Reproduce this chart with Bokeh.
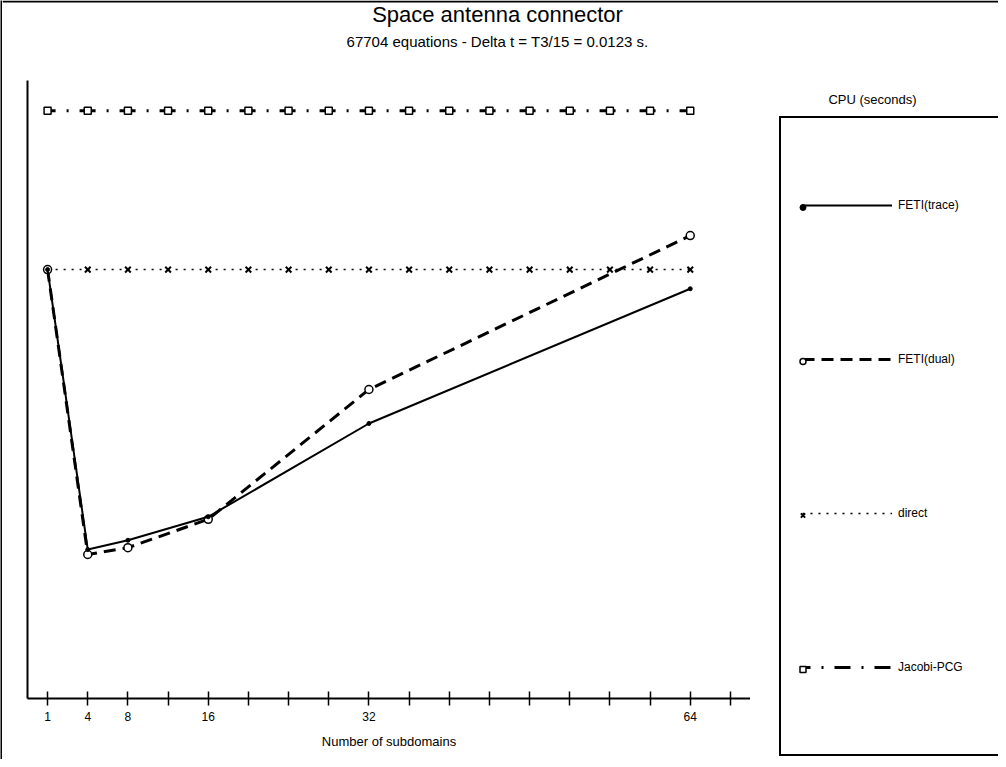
from bokeh.plotting import figure
from bokeh.layouts import row, column
from bokeh.models import (FixedTicker, Legend, LegendItem, Label, Range1d)
from bokeh.embed import file_html
from bokeh.resources import INLINE

# ---------------- data (y in relative CPU units, no scale printed) ----------------
subdomains = [1, 4, 8, 16, 32, 64]
feti_trace = [69.4, 24.1, 25.6, 29.4, 44.5, 66.3]
feti_dual = [69.4, 23.3, 24.4, 29.0, 50.0, 74.9]

ref_subdomains = [1, 4, 8, 12, 16, 20, 24, 28, 32, 36, 40, 44, 48, 52, 56, 60, 64]
direct_cpu = [69.4] * len(ref_subdomains)
jacobi_cpu = [95.1] * len(ref_subdomains)

tick_values = [1, 4, 8, 12, 16, 20, 24, 28, 32, 36, 40, 44, 48, 52, 56, 60, 64, 68]
tick_labels = {1: "1", 4: "4", 8: "8", 16: "16", 32: "32", 64: "64"}

series_names = ["FETI(trace)", "FETI(dual)", "direct", "Jacobi-PCG"]
title_text = "Space antenna connector"
subtitle_text = "67704 equations - Delta t = T3/15 = 0.0123 s."
legend_title = "CPU (seconds)"
x_title = "Number of subdomains"


# the original axis puts "1 subdomain" on the origin tick of its 4-step grid
def axis_pos(n):
    return 0 if n == 1 else n


xs = [axis_pos(n) for n in subdomains]
xs_ref = [axis_pos(n) for n in ref_subdomains]

FONT = "Liberation Sans"

STY = {
    "trace_line": dict(line_color="black", line_width=2),
    "trace_mk": dict(marker="circle", size=4, fill_color="black", line_color="black"),
    "dual_line": dict(line_color="black", line_width=3, line_dash="12 7"),
    "dual_mk": dict(marker="circle", size=8, fill_color="white", line_color="black", line_width=1.5),
    "dir_line": dict(line_color="black", line_width=1.5, line_dash="2 6"),
    "dir_mk": dict(marker="x", size=8, line_color="black", line_width=2),
    "jac_line": dict(line_color="black", line_width=3, line_dash="16 11 2 11", line_dash_offset=8),
    "jac_mk": dict(marker="square", size=7, fill_color="white", line_color="black", line_width=1.5),
}


def no_align(f):
    try:
        f.frame_align = False
    except Exception:
        pass
    return f


def blank(width, height, fill="white", xr=(0, 1), yr=(0, 1)):
    f = figure(width=width, height=height, title=None, toolbar_location=None,
               output_backend="svg", x_axis_type=None, y_axis_type=None,
               x_range=Range1d(*xr), y_range=Range1d(*yr),
               min_border=0, min_border_left=0, min_border_right=0,
               min_border_top=0, min_border_bottom=0,
               background_fill_color=fill, border_fill_color=fill)
    f.outline_line_color = None
    return no_align(f)


# ---------------- header: titles and the page's top rule ----------------
HEAD_H = 80
header = blank(996, HEAD_H, xr=(0, 996), yr=(0, HEAD_H))
header.quad(left=[0], right=[996], bottom=[HEAD_H - 2], top=[HEAD_H],
            fill_color="black", line_color=None)
header.add_layout(Label(x=495, y=HEAD_H - 14, text=title_text, text_align="center",
                        text_baseline="middle", text_font=FONT, text_font_size="22px",
                        text_color="black"))
header.add_layout(Label(x=495, y=HEAD_H - 41, text=subtitle_text, text_align="center",
                        text_baseline="middle", text_font=FONT, text_font_size="15px",
                        text_color="black"))

# ---------------- main plot ----------------
p = figure(frame_width=723, frame_height=618, title=None,
           x_range=Range1d(-2, 70), y_range=Range1d(0, 100),
           output_backend="svg", toolbar_location=None,
           min_border_left=25, min_border_right=0,
           min_border_top=0, min_border_bottom=61,
           background_fill_color="white", border_fill_color="white")
no_align(p)
p.outline_line_color = None
p.grid.visible = False

p.yaxis.ticker = FixedTicker(ticks=[])
p.yaxis.major_tick_in = 0
p.yaxis.major_tick_out = 0
p.yaxis.minor_tick_in = 0
p.yaxis.minor_tick_out = 0
p.yaxis.major_label_text_font_size = "0px"
p.yaxis.axis_line_width = 2
p.yaxis.axis_line_color = "black"

p.xaxis.ticker = FixedTicker(ticks=[axis_pos(t) for t in tick_values], minor_ticks=[])
p.xaxis.major_label_overrides = {axis_pos(t): tick_labels.get(t, "") for t in tick_values}
p.xaxis.major_tick_in = 7
p.xaxis.major_tick_out = 7
p.xaxis.minor_tick_in = 0
p.xaxis.minor_tick_out = 0
p.xaxis.axis_line_width = 2
p.xaxis.major_tick_line_width = 1.5
p.xaxis.axis_line_color = "black"
p.xaxis.major_tick_line_color = "black"
p.xaxis.major_label_text_font = FONT
p.xaxis.major_label_text_font_size = "12px"
p.xaxis.major_label_text_color = "black"
p.xaxis.major_label_standoff = 6
p.xaxis.axis_label = x_title
p.xaxis.axis_label_text_font = FONT
p.xaxis.axis_label_text_font_size = "13px"
p.xaxis.axis_label_text_font_style = "normal"
p.xaxis.axis_label_text_color = "black"
p.xaxis.axis_label_standoff = 10

p.line(xs_ref, jacobi_cpu, **STY["jac_line"])
p.scatter(xs_ref, jacobi_cpu, **STY["jac_mk"])
p.line(xs_ref, direct_cpu, **STY["dir_line"])
p.scatter(xs_ref, direct_cpu, **STY["dir_mk"])
p.line(xs, feti_dual, **STY["dual_line"])
p.scatter(xs, feti_dual, **STY["dual_mk"])
p.line(xs, feti_trace, **STY["trace_line"])
p.scatter(xs, feti_trace, **STY["trace_mk"])

# ---------------- legend panel (own canvas, frame = whole canvas) ----------------
LG_W, LG_H = 248, 679
lg = blank(LG_W, LG_H, xr=(0, LG_W), yr=(0, LG_H))
# sample renderers kept outside the visible range: they only feed the legend glyphs
off_x, off_y = [-20, -10], [-20, -20]
r_lines = [lg.line(off_x, off_y, **STY[k]) for k in ("trace_line", "dual_line", "dir_line", "jac_line")]
r_marks = [lg.scatter(off_x, off_y, **STY[k]) for k in ("trace_mk", "dual_mk", "dir_mk", "jac_mk")]

ITEM_H = 132
SPACING = 22

legend_lines = Legend(
    items=[LegendItem(label=n, renderers=[r]) for n, r in zip(series_names, r_lines)],
    location=(29, 3), orientation="vertical",
    glyph_width=90, glyph_height=ITEM_H, label_height=ITEM_H, label_width=110,
    spacing=SPACING, padding=21, margin=0, label_standoff=6,
    label_text_font=FONT, label_text_font_size="12px", label_text_color="black",
    border_line_color="black", border_line_width=2, border_line_alpha=1.0,
    background_fill_alpha=0)

legend_marks = Legend(
    items=[LegendItem(label=" ", renderers=[r]) for r in r_marks],
    location=(45, 24), orientation="vertical",
    glyph_width=15, glyph_height=ITEM_H, label_height=ITEM_H, label_width=1,
    spacing=SPACING, padding=0, margin=0, label_standoff=0,
    label_text_font_size="1px",
    border_line_alpha=0, background_fill_alpha=0)

lg.add_layout(legend_lines)
lg.add_layout(legend_marks)
lg.add_layout(Label(x=122, y=660, text=legend_title, text_align="center",
                    text_baseline="middle", text_font=FONT, text_font_size="13px",
                    text_color="black"))

# ---------------- page's left rule ----------------
left_strip = blank(2, 759, fill="black")

layout = row(left_strip, column(header, row(p, lg, spacing=0), spacing=0), spacing=0)

open("out.html", "w").write(file_html(layout, INLINE))
